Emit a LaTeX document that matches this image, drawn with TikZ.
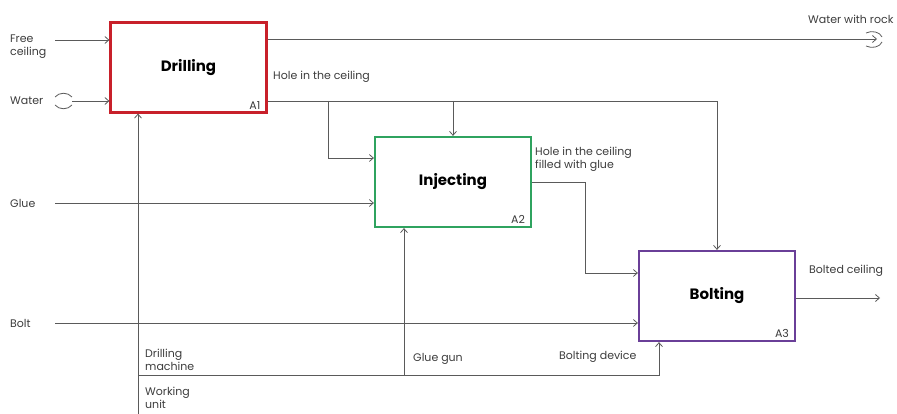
\documentclass[tikz,border=0pt]{standalone}
\usepackage{fontspec}
\setmainfont{Poppins}
\usetikzlibrary{arrows.meta,calc}
\definecolor{linegray}{HTML}{5A5A5A}
\definecolor{txtgray}{HTML}{3C3C3C}
\definecolor{drillred}{HTML}{C8202A}
\definecolor{injgreen}{HTML}{2FA35F}
\definecolor{boltpurple}{HTML}{6A3F98}
\tikzset{
  flow/.style={draw=linegray, line width=0.8pt, -{Straight Barb[length=4pt,width=7pt]}},
  plain/.style={draw=linegray, line width=0.8pt},
  actbox/.style={draw, line width=2.2pt, fill=white, minimum width=156pt, minimum height=90pt, inner sep=0pt,
    font=\fontsize{15}{17}\selectfont\bfseries, text=black},
  lbl/.style={font=\fontsize{11}{13}\selectfont, text=txtgray, inner sep=0pt, anchor=west, align=left},
  idlbl/.style={font=\fontsize{11}{13}\selectfont, text=txtgray, inner sep=0pt, anchor=south east},
  tunnel/.style={draw=linegray, line width=0.8pt}
}
\begin{document}
\begin{tikzpicture}[x=1pt,y=-1pt]
\useasboundingbox (0,0) rectangle (897,414);
% boxes
\node[actbox, draw=drillred] (drill) at (188.5,67.5) {Drilling};
\node[actbox, draw=injgreen] (inj) at (453,182) {Injecting};
\node[actbox, draw=boltpurple] (bolt) at (717,296) {Bolting};
\node[idlbl] (a1) at ($(drill.south east)+(-7,-4)$) {A1};
\node[idlbl] (a2) at ($(inj.south east)+(-7,-4)$) {A2};
\node[idlbl] (a3) at ($(bolt.south east)+(-7,-4)$) {A3};
% free ends
\coordinate (fc) at (55,40);
\coordinate (wa) at (72,101);
\coordinate (wr) at (877,39);
\coordinate (h1) at (328,101);
\coordinate (h2) at (453,101);
\coordinate (hc) at (717,101);
\coordinate (gl) at (55,203);
\coordinate (io) at (585,182);
\coordinate (bo) at (55,323);
\coordinate (bc) at (880,298);
\coordinate (dm) at (138,414);
\coordinate (bd) at (138,375);
\coordinate (bdc) at (659,375);
\coordinate (gg) at (404,375);
% inputs
\draw[flow] (fc) -- (fc -| drill.west);
\draw[flow] (wa) -- (wa -| drill.west);
\draw[flow] (gl) -- (gl -| inj.west);
\draw[flow] (bo) -- (bo -| bolt.west);
% outputs
\draw[flow] (wr -| drill.east) -- (wr);
\draw[flow] (hc -| drill.east) -- (hc) -- (hc |- bolt.north);
\draw[flow] (h1) -- (h1 |- 0,158) -- (inj.west |- 0,158);
\draw[flow] (h2) -- (inj.north);
\draw[flow] (io -| inj.east) -- (io) -- (io |- 0,273) -- (bolt.west |- 0,273);
\draw[flow] (bc -| bolt.east) -- (bc);
% mechanisms
\draw[flow] (dm) -- (dm |- drill.south);
\draw[flow] (bd) -- (bdc) -- (bdc |- bolt.south);
\draw[flow] (gg) -- (gg |- inj.south);
% tunnels
\draw[tunnel] (55,97) .. controls (59,92) and (68,92) .. (72,97);
\draw[tunnel] (55,105) .. controls (59,110) and (68,110) .. (72,105);
\draw[tunnel] (866,33) .. controls (872,30) and (880,32) .. (882,37);
\draw[tunnel] (866,46) .. controls (872,49) and (880,47) .. (882,42);
% labels
\node[lbl] (tfc) at (10,47) {Free\\ceiling};
\node[lbl] (twa) at (10,101) {Water};
\node[lbl] (tgl) at (10,203) {Glue};
\node[lbl] (tbo) at (10,323) {Bolt};
\node[lbl] (twr) at (808,19) {Water with rock};
\node[lbl] (thc) at (273,77) {Hole in the ceiling};
\node[lbl] (tio) at (535,159.5) {Hole in the ceiling\\filled with glue};
\node[lbl] (tbc) at (809,271) {Bolted ceiling};
\node[lbl] (tdm) at (145,359.5) {Drilling\\machine};
\node[lbl] (twu) at (145,398) {Working\\unit};
\node[lbl] (tgg) at (413,359) {Glue gun};
\node[lbl] (tbd) at (559,357) {Bolting device};
\end{tikzpicture}
\end{document}
